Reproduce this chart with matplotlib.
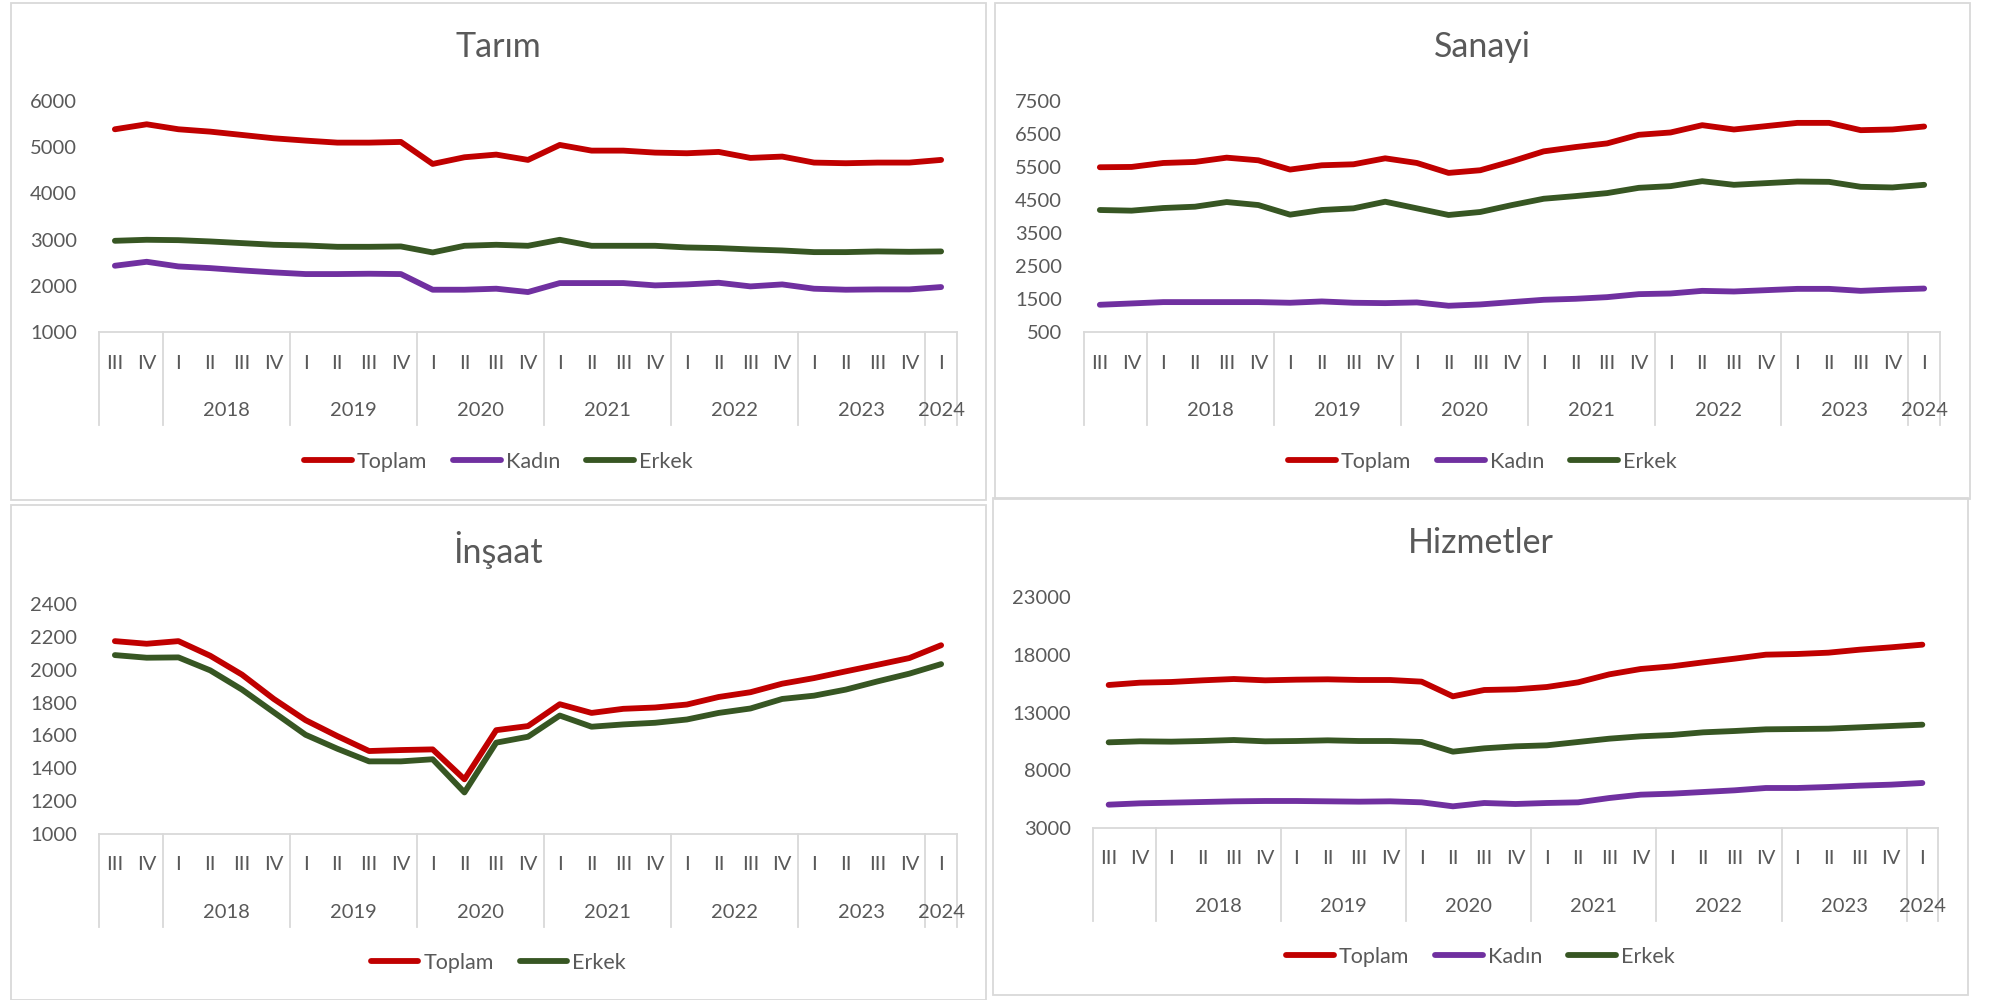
import matplotlib
matplotlib.use("Agg")
import matplotlib.pyplot as plt
from matplotlib.patches import Rectangle
from matplotlib.transforms import offset_copy

plt.rcParams['font.family'] = ['Lato', 'DejaVu Sans']

W, H = 1995, 1000
TEXT = '#595959'
GRID = '#D9D9D9'
COLORS = {'Toplam': '#C00000', 'Kadın': '#7030A0', 'Erkek': '#375623'}

# categories: 2017 III .. 2024 I
quarters = ["III", "IV"] + ["I", "II", "III", "IV"] * 6 + ["I"]
year_labels = ["", "2018", "2019", "2020", "2021", "2022", "2023", "2024"]
year_sizes = [2, 4, 4, 4, 4, 4, 4, 1]

# Tarım
tarim_toplam = [5388, 5496, 5388, 5337, 5265, 5193, 5143, 5099, 5099, 5114, 4638, 4782, 4840, 4725,
                5049, 4926, 4926, 4883, 4869, 4898, 4768, 4797, 4667, 4653, 4667, 4667, 4725]
tarim_kadin = [2434, 2520, 2419, 2383, 2333, 2290, 2254, 2254, 2261, 2254, 1915, 1915, 1937, 1865,
               2059, 2059, 2059, 2009, 2030, 2066, 1987, 2030, 1937, 1915, 1922, 1922, 1973]
tarim_erkek = [2974, 2996, 2988, 2960, 2924, 2888, 2873, 2844, 2844, 2852, 2722, 2866, 2888, 2866,
               2996, 2866, 2866, 2866, 2830, 2816, 2787, 2765, 2729, 2729, 2744, 2736, 2744]

# Sanayi
sanayi_toplam = [5492, 5502, 5622, 5653, 5783, 5703, 5422, 5552, 5582, 5763, 5622, 5321, 5402, 5673,
                 5974, 6104, 6215, 6476, 6546, 6767, 6637, 6737, 6837, 6837, 6616, 6637, 6727]
sanayi_kadin = [1325, 1365, 1406, 1406, 1406, 1406, 1386, 1426, 1386, 1375, 1396, 1295, 1335, 1406,
                1476, 1506, 1556, 1647, 1667, 1747, 1727, 1767, 1807, 1807, 1747, 1787, 1817]
sanayi_erkek = [4197, 4177, 4257, 4297, 4438, 4347, 4056, 4197, 4247, 4448, 4247, 4046, 4137, 4347,
                4538, 4618, 4709, 4869, 4920, 5070, 4960, 5010, 5060, 5050, 4900, 4880, 4960]

# İnşaat
insaat_toplam = [2174, 2158, 2174, 2085, 1970, 1822, 1693, 1596, 1505, 1511, 1515, 1333, 1632, 1657,
                 1790, 1737, 1762, 1770, 1788, 1834, 1863, 1915, 1949, 1990, 2030, 2071, 2149]
insaat_erkek = [2089, 2073, 2075, 1996, 1879, 1741, 1604, 1519, 1442, 1442, 1455, 1253, 1556, 1592,
                1721, 1653, 1667, 1677, 1697, 1737, 1764, 1822, 1842, 1879, 1929, 1976, 2034]

# Hizmetler
hizmet_toplam = [15381, 15583, 15641, 15785, 15900, 15785, 15843, 15872, 15814, 15814, 15670, 14400,
                 14948, 15006, 15208, 15612, 16305, 16766, 16997, 17343, 17661, 18007, 18065, 18180,
                 18440, 18642, 18873]
hizmet_kadin = [5020, 5136, 5193, 5251, 5309, 5338, 5338, 5309, 5280, 5309, 5222, 4877, 5165, 5078,
                5165, 5222, 5597, 5886, 5973, 6117, 6262, 6464, 6464, 6550, 6666, 6753, 6897]
hizmet_erkek = [10417, 10504, 10475, 10532, 10619, 10504, 10532, 10590, 10532, 10532, 10446, 9609,
                9898, 10071, 10157, 10446, 10734, 10937, 11052, 11283, 11398, 11543, 11571, 11600,
                11716, 11831, 11946]

fig = plt.figure(figsize=(W / 100, H / 100), dpi=100)


def draw_panel(box, plot, title, series, yticks, title_y, legend_y):
    # panel frame
    x0, y0, x1, y1 = box
    fig.add_artist(Rectangle((x0 / W, 1 - y1 / H), (x1 - x0) / W, (y1 - y0) / H,
                             transform=fig.transFigure, fill=False, ec=GRID, lw=1.3))
    cx = (x0 + x1) / 2

    left, top, right, bottom = plot
    ax = fig.add_axes([left / W, 1 - bottom / H, (right - left) / W, (bottom - top) / H])
    xs = list(range(len(quarters)))
    handles = []
    for name, vals in series:
        ln, = ax.plot(xs, vals, color=COLORS[name], lw=4.2,
                      solid_joinstyle='round', solid_capstyle='round', label=name)
        handles.append(ln)

    ax.set_xlim(-0.5, len(quarters) - 0.5)
    ax.set_ylim(yticks[0], yticks[-1])
    ax.set_yticks(yticks)
    ax.tick_params(axis='y', length=0, pad=16, labelsize=14.5, labelcolor=TEXT)
    ax.set_xticks([])
    for s in ['top', 'right', 'left']:
        ax.spines[s].set_visible(False)
    ax.spines['bottom'].set_color(GRID)
    ax.spines['bottom'].set_linewidth(1.3)

    xt = ax.get_xaxis_transform()
    q_tr = offset_copy(xt, fig=fig, y=-31, units='dots')
    y_tr = offset_copy(xt, fig=fig, y=-78, units='dots')
    for i, q in enumerate(quarters):
        ax.text(i, 0, q, transform=q_tr, ha='center', va='center', fontsize=14.5, color=TEXT)

    # year groups and separators
    h_px = bottom - top
    pos = -0.5
    bounds = [pos]
    for lab, n in zip(year_labels, year_sizes):
        if lab:
            ax.text(pos + n / 2, 0, lab, transform=y_tr, ha='center', va='center',
                    fontsize=14.5, color=TEXT)
        pos += n
        bounds.append(pos)
    for b in bounds:
        ax.plot([b, b], [0, -93 / h_px], transform=xt, color=GRID, lw=1.3, clip_on=False)

    fig.text(cx / W, 1 - title_y / H, title, ha='center', va='center', fontsize=24.5, color=TEXT)
    fig.legend(handles, [h.get_label() for h in handles], loc='center',
               bbox_to_anchor=(cx / W, 1 - legend_y / H), ncol=len(handles), frameon=False,
               handlelength=2.2, handletextpad=0.25, columnspacing=1.2, fontsize=15.5,
               labelcolor=TEXT)
    return ax


draw_panel((11, 3, 986, 500), (99, 101, 957, 332), "Tarım",
           [("Toplam", tarim_toplam), ("Kadın", tarim_kadin), ("Erkek", tarim_erkek)],
           [1000, 2000, 3000, 4000, 5000, 6000], 47, 462)
draw_panel((995, 3, 1970, 499), (1084, 101, 1940, 332), "Sanayi",
           [("Toplam", sanayi_toplam), ("Kadın", sanayi_kadin), ("Erkek", sanayi_erkek)],
           [500, 1500, 2500, 3500, 4500, 5500, 6500, 7500], 47, 462)
draw_panel((11, 505, 986, 1000), (99, 604, 957, 834), "İnşaat",
           [("Toplam", insaat_toplam), ("Erkek", insaat_erkek)],
           [1000, 1200, 1400, 1600, 1800, 2000, 2200, 2400], 550, 963)
draw_panel((993, 498, 1968, 995), (1093, 597, 1938, 828), "Hizmetler",
           [("Toplam", hizmet_toplam), ("Kadın", hizmet_kadin), ("Erkek", hizmet_erkek)],
           [3000, 8000, 13000, 18000, 23000], 543, 957)

fig.savefig("out.png", dpi=100)
